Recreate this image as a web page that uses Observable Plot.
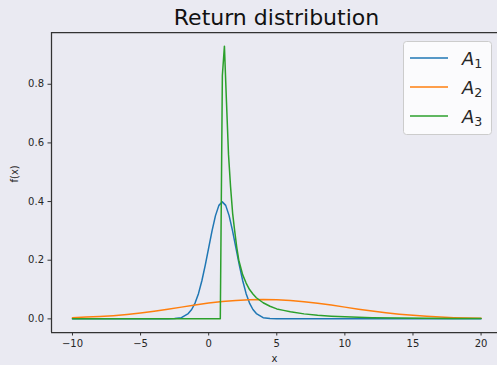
<!DOCTYPE html>
<html><head><meta charset="utf-8">
<script src="https://cdn.jsdelivr.net/npm/d3@7"></script>
<script src="https://cdn.jsdelivr.net/npm/@observablehq/plot@0.6"></script>
<style>
html,body{margin:0;padding:0;background:#eaeaf2;overflow:hidden;width:497px;height:365px;}
#wrap{position:relative;width:497px;height:365px;}
#wrap svg{display:block;}
#legend{position:absolute;left:403px;top:41px;width:89px;height:94px;}
</style></head><body><div id="wrap"></div>
<script>
const title = "Return distribution";
const xLabel = "x";
const yLabel = "f(x)";
const seriesNames = ["A1", "A2", "A3"];
const seriesColors = ["#1f77b4", "#ff7f0e", "#2ca02c"];
const xTicks = [-10, -5, 0, 5, 10, 15, 20];
const yTicks = [0, 0.2, 0.4, 0.6, 0.8];

const a1X = [-10, -3, -2.5, -2, -1.5, -1.25, -1, -0.75, -0.5, -0.25, 0, 0.25, 0.5, 0.75, 1, 1.25, 1.5, 1.75, 2, 2.25, 2.5, 2.75, 3, 3.25, 3.5, 4, 4.5, 5, 20];
const a1Y = [0, 0, 0.001, 0.004, 0.018, 0.032, 0.054, 0.086, 0.130, 0.183, 0.242, 0.301, 0.352, 0.387, 0.399, 0.387, 0.352, 0.301, 0.242, 0.183, 0.130, 0.086, 0.054, 0.032, 0.018, 0.004, 0.001, 0, 0];

const a2X = [-10, -9, -8, -7, -6, -5, -4, -3, -2, -1, 0, 1, 2, 3, 4, 5, 6, 7, 8, 9, 10, 11, 12, 13, 14, 15, 16, 17, 18, 19, 20];
const a2Y = [0.004, 0.006, 0.008, 0.011, 0.015, 0.020, 0.026, 0.033, 0.040, 0.047, 0.054, 0.059, 0.063, 0.065, 0.066, 0.065, 0.063, 0.058, 0.053, 0.047, 0.040, 0.033, 0.027, 0.021, 0.016, 0.012, 0.009, 0.006, 0.004, 0.003, 0.002];

const a3X = [-10, 0.854, 1.005, 1.156, 1.307, 1.457, 1.608, 1.759, 1.910, 2.060, 2.211, 2.5, 2.75, 3.0, 3.25, 3.5, 4, 4.5, 5, 5.5, 6, 7, 8, 9, 10, 12, 14, 16, 18, 20];
const a3Y = [0, 0, 0.83, 0.93, 0.74, 0.56, 0.45, 0.36, 0.30, 0.245, 0.20, 0.15, 0.122, 0.10, 0.085, 0.072, 0.055, 0.043, 0.034, 0.029, 0.024, 0.017, 0.012, 0.009, 0.007, 0.004, 0.003, 0.002, 0.0015, 0.001];

const xs = [a1X, a2X, a3X];
const ys = [a1Y, a2Y, a3Y];
const data = [];
seriesNames.forEach((name, i) => xs[i].forEach((x, j) => data.push({series: name, x, y: ys[i][j]})));

const xDomain = [-11.54, 21.5];
const yDomain = [-0.0465, 0.9765];
const fmtX = d => d < 0 ? "\u2212" + (-d) : String(d);
const fmtY = d => d.toFixed(1);
const ink = "#262626";

const chart = Plot.plot({
  width: 497, height: 365,
  marginLeft: 51, marginRight: 0, marginTop: 32, marginBottom: 33,
  style: {background: "transparent", fontFamily: "DejaVu Sans", fontSize: "10px", color: ink, overflow: "visible"},
  x: {domain: xDomain, range: [51, 501]},
  y: {domain: yDomain},
  color: {domain: seriesNames, range: seriesColors},
  marks: [
    Plot.ruleX([xDomain[0]], {stroke: "#333", strokeWidth: 1.25}),
    Plot.ruleY([yDomain[0]], {stroke: "#333", strokeWidth: 1.25}),
    Plot.ruleY([yDomain[1]], {stroke: "#333", strokeWidth: 1.25}),
    Plot.axisX({ticks: xTicks, tickFormat: fmtX, tickSize: 3.5, tickPadding: 3.5, label: null, stroke: "#333", color: ink, fontSize: 10}),
    Plot.axisY({ticks: yTicks, tickFormat: fmtY, tickSize: 3.5, tickPadding: 4, label: null, stroke: "#333", color: ink, fontSize: 10}),
    Plot.line(data, {x: "x", y: "y", z: "series", stroke: "series", strokeWidth: 1.5}),
    Plot.text([title], {frameAnchor: "top", dx: 2, dy: -23, fontSize: 22, fill: "#111"}),
    Plot.text([yLabel], {frameAnchor: "left", dx: -37, rotate: -90, fontSize: 10, fill: ink}),
    Plot.text([xLabel], {frameAnchor: "bottom", dy: 29, fontSize: 10, fill: ink})
  ]
});
const wrap = document.getElementById("wrap");
wrap.appendChild(chart);

// legend
const ns = "http://www.w3.org/2000/svg";
const leg = document.createElementNS(ns, "svg");
leg.setAttribute("id", "legend");
leg.setAttribute("width", 89);
leg.setAttribute("height", 94);
const box = document.createElementNS(ns, "rect");
box.setAttribute("x", 0.5); box.setAttribute("y", 0.5);
box.setAttribute("width", 88); box.setAttribute("height", 93);
box.setAttribute("rx", 3);
box.setAttribute("fill", "rgba(255,255,255,0.8)");
box.setAttribute("stroke", "#cccccc");
leg.appendChild(box);
seriesNames.forEach((name, i) => {
  const cy = 17 + i * 29;
  const ln = document.createElementNS(ns, "line");
  ln.setAttribute("x1", 7); ln.setAttribute("x2", 45);
  ln.setAttribute("y1", cy); ln.setAttribute("y2", cy);
  ln.setAttribute("stroke", seriesColors[i]);
  ln.setAttribute("stroke-width", 1.5);
  leg.appendChild(ln);
  const t = document.createElementNS(ns, "text");
  t.setAttribute("x", 59); t.setAttribute("y", cy + 7);
  t.setAttribute("font-family", "DejaVu Sans");
  t.setAttribute("font-size", 18);
  t.setAttribute("fill", ink);
  const a = document.createElementNS(ns, "tspan");
  a.setAttribute("font-style", "italic");
  a.textContent = name.charAt(0);
  const s = document.createElementNS(ns, "tspan");
  s.setAttribute("font-size", 12.6);
  s.setAttribute("dy", 2.5);
  s.textContent = name.slice(1);
  t.appendChild(a); t.appendChild(s);
  leg.appendChild(t);
});
wrap.appendChild(leg);
</script>
</body></html>
